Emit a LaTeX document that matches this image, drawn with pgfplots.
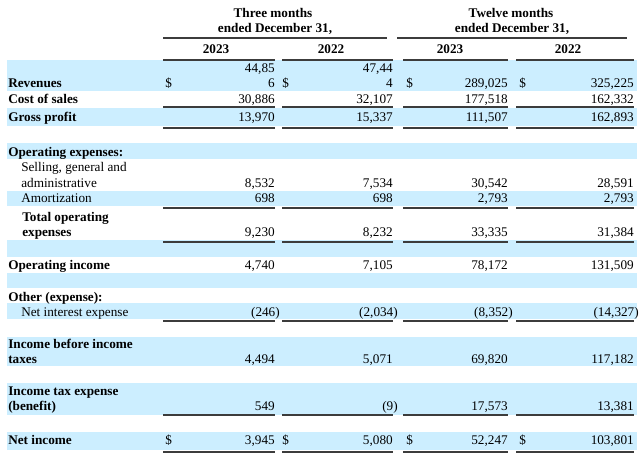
\documentclass[border=0pt]{standalone}
\usepackage{pgfplots}
\pgfplotsset{compat=1.18}
\usepackage{pgfplotstable}
\usepackage{fontspec}
\setmainfont{Liberation Serif}

\definecolor{band}{RGB}{204,238,255}
\definecolor{rule}{RGB}{60,60,60}

% positions are in pixels of the 640x453 reference, y counted downwards
\pgfplotstableread[col sep=&, row sep=\\]{
x & y & t \\
273 & 13 & Three months \\
275 & 28 & ended December 31, \\
511 & 13 & Twelve months \\
512 & 28 & ended December 31, \\
216 & 49 & 2023 \\
331 & 49 & 2022 \\
450 & 49 & 2023 \\
568 & 49 & 2022 \\
}\headers

\pgfplotstableread[col sep=&, row sep=\\]{
x & y & t \\
8 & 83 & Revenues \\
8 & 99 & Cost of sales \\
8 & 117 & Gross profit \\
8 & 152 & Operating expenses: \\
22 & 217 & Total operating \\
22 & 232 & expenses \\
8 & 265 & Operating income \\
8 & 297 & Other (expense): \\
8 & 344 & Income before income \\
8 & 359 & taxes \\
8 & 391 & Income tax expense \\
8 & 406 & (benefit) \\
8 & 440 & Net income \\
}\boldlabels

\pgfplotstableread[col sep=&, row sep=\\]{
x & y & t \\
21 & 167 & Selling, general and \\
21 & 183 & administrative \\
21 & 198 & Amortization \\
21 & 312 & Net interest expense \\
}\plainlabels

% three months 2023 | three months 2022 | twelve months 2023 | twelve months 2022
\pgfplotstableread{
x   y   t
275 68  44,85
275 83  6
275 99  30,886
275 117 13,970
275 183 8,532
275 198 698
275 232 9,230
275 265 4,740
280 312 (246)
275 359 4,494
275 406 549
275 440 3,945
393 68  47,44
393 83  4
393 99  32,107
393 117 15,337
393 183 7,534
393 198 698
393 232 8,232
393 265 7,105
398 312 (2,034)
393 359 5,071
398 406 (9)
393 440 5,080
508 83  289,025
508 99  177,518
508 117 111,507
508 183 30,542
508 198 2,793
508 232 33,335
508 265 78,172
513 312 (8,352)
508 359 69,820
508 406 17,573
508 440 52,247
634 83  325,225
634 99  162,332
634 117 162,893
634 183 28,591
634 198 2,793
634 232 31,384
634 265 131,509
639 312 (14,327)
634 359 117,182
634 406 13,381
634 440 103,801
}\values

\begin{document}
\begin{tikzpicture}
\begin{axis}[
    hide axis,
    scale only axis,
    width  = 16cm,
    height = 11.325cm,
    xmin = 0, xmax = 640,
    ymin = 0, ymax = 453,
    y dir = reverse,
    clip = false,
    point meta = explicit symbolic,
    every node near coord/.append style = {
        font = \fontsize{9.4}{11}\selectfont,
        inner sep = 0pt,
        text = black,
        yshift = -3.2pt
    },
]
    \path (axis cs:0,0) rectangle (axis cs:640,453);

    % shaded rows
    \foreach \a/\b in {60/91, 108/126, 143/159, 191/206, 240/257,
                       273/288, 303/319, 337/366, 383/415, 432/450} {
        \edef\tmp{\noexpand\fill[band] (axis cs:7,\a) rectangle (axis cs:637,\b);}
        \tmp
    }

    % rules
    \begin{scope}[rule, line width = 0.9pt]
        \draw (axis cs:163,38) -- (axis cs:387,38);
        \draw (axis cs:397,38) -- (axis cs:627,38);
        \foreach \yy in {60, 107, 128, 208, 242, 321, 415} {
            \edef\tmp{\noexpand\draw (axis cs:163,\yy) -- (axis cs:275,\yy);
                      \noexpand\draw (axis cs:282,\yy) -- (axis cs:393,\yy);
                      \noexpand\draw (axis cs:403,\yy) -- (axis cs:508,\yy);
                      \noexpand\draw (axis cs:516,\yy) -- (axis cs:634,\yy);}
            \tmp
        }
        \draw[line width = 1.6pt] (axis cs:163,452) -- (axis cs:275,452);
        \draw[line width = 1.6pt] (axis cs:282,452) -- (axis cs:393,452);
        \draw[line width = 1.6pt] (axis cs:403,452) -- (axis cs:508,452);
        \draw[line width = 1.6pt] (axis cs:516,452) -- (axis cs:634,452);
    \end{scope}

    % column headers
    \addplot[draw = none, mark = none, nodes near coords,
        nodes near coords align = {anchor = base},
        every node near coord/.append style = {anchor = base, font = \fontsize{9.4}{11}\selectfont\bfseries}]
        table[x = x, y = y, meta = t] {\headers};

    % row labels
    \addplot[draw = none, mark = none, nodes near coords,
        nodes near coords align = {anchor = base west},
        every node near coord/.append style = {anchor = base west, font = \fontsize{9.4}{11}\selectfont\bfseries}]
        table[x = x, y = y, meta = t] {\boldlabels};
    \addplot[draw = none, mark = none, nodes near coords,
        nodes near coords align = {anchor = base west},
        every node near coord/.append style = {anchor = base west}]
        table[x = x, y = y, meta = t] {\plainlabels};

    % values
    \addplot[draw = none, mark = none, nodes near coords,
        nodes near coords align = {anchor = base east},
        every node near coord/.append style = {anchor = base east}]
        table[x = x, y = y, meta = t] {\values};

    % dollar signs
    \addplot[draw = none, mark = none, nodes near coords = {\$},
        nodes near coords align = {anchor = base west},
        every node near coord/.append style = {anchor = base west}]
        coordinates {(165,83) (282,83) (406,83) (519,83)
                     (165,440) (282,440) (406,440) (519,440)};
\end{axis}
\end{tikzpicture}
\end{document}
